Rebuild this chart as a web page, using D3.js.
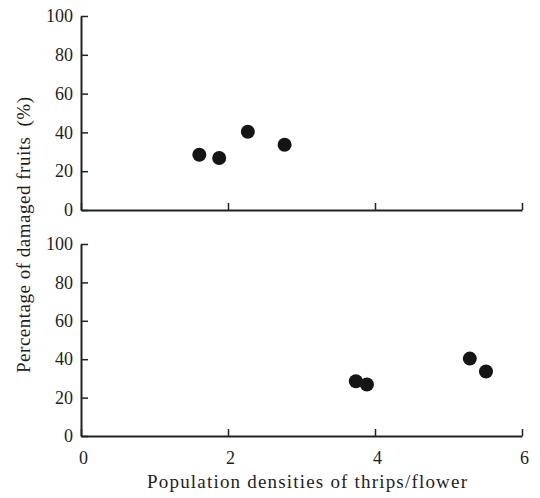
<!DOCTYPE html>
<html>
<head>
<meta charset="utf-8">
<script src="https://cdn.jsdelivr.net/npm/d3@7"></script>
<style>
  body { margin: 0; background: #fff; }
  svg { display: block; }
</style>
</head>
<body>
<div id="chart"></div>
<script>
// damaged fruit percentages (same fruits, two density estimates)
const damaged = [28.5, 26.8, 40.3, 33.6];
// thrips per flower, upper panel
const densityTop = [1.61, 1.88, 2.27, 2.77];
// thrips per flower, lower panel
const densityBottom = [3.74, 3.89, 5.29, 5.51];
const xTicks = [0, 2, 4, 6];
const yTicks = [0, 20, 40, 60, 80, 100];

const width = 540, height = 498;
const serif = 'Liberation Serif';
const ink = '#1e1e1e';

const svg = d3.select('#chart').append('svg')
    .attr('width', width)
    .attr('height', height);

const x = d3.scaleLinear().domain([0, 6]).range([81, 522]);

const panels = [
    { xs: densityTop, y0: 210, y1: 16, labels: false },
    { xs: densityBottom, y0: 436, y1: 244, labels: true }
];

function styleAxis(sel) {
    sel.attr('font-family', serif).attr('font-size', 18);
    sel.select('.domain').attr('stroke', '#222').attr('stroke-width', 2);
    sel.selectAll('.tick line').attr('stroke', '#222').attr('stroke-width', 1.5);
    sel.selectAll('.tick text').attr('fill', ink).attr('font-family', serif);
}

panels.forEach(p => {
    const y = d3.scaleLinear().domain([0, 100]).range([p.y0, p.y1]);
    const g = svg.append('g');

    // x axis, ticks pointing up into the plot
    const xAxis = g.append('g')
        .attr('transform', `translate(0,${p.y0})`)
        .call(d3.axisBottom(x)
            .tickValues(xTicks)
            .tickSizeInner(-7)
            .tickSizeOuter(0)
            .tickPadding(15)
            .tickFormat(p.labels ? d3.format('d') : ''));
    styleAxis(xAxis);
    xAxis.selectAll('.tick text').attr('dx', 2);

    // y axis, ticks pointing right
    const yAxis = g.append('g')
        .attr('transform', `translate(${x(0)},0)`)
        .call(d3.axisLeft(y)
            .tickValues(yTicks)
            .tickSizeInner(-7)
            .tickSizeOuter(0)
            .tickPadding(8));
    styleAxis(yAxis);

    g.selectAll('circle')
        .data(p.xs.map((d, i) => [d, damaged[i]]))
        .join('circle')
            .attr('cx', d => x(d[0]))
            .attr('cy', d => y(d[1]))
            .attr('r', 7)
            .attr('fill', '#151515');
});

// axis titles
svg.append('text')
    .attr('x', 307)
    .attr('y', 488)
    .attr('text-anchor', 'middle')
    .attr('fill', ink)
    .attr('font-family', serif)
    .attr('font-size', 19)
    .attr('textLength', 320)
    .text('Population densities of thrips/flower');

svg.append('text')
    .attr('transform', 'translate(30,235) rotate(-90)')
    .attr('text-anchor', 'middle')
    .attr('fill', ink)
    .attr('font-family', serif)
    .attr('font-size', 19)
    .attr('textLength', 276)
    .text('Percentage of damaged fruits\u2002(%)');
</script>
</body>
</html>
